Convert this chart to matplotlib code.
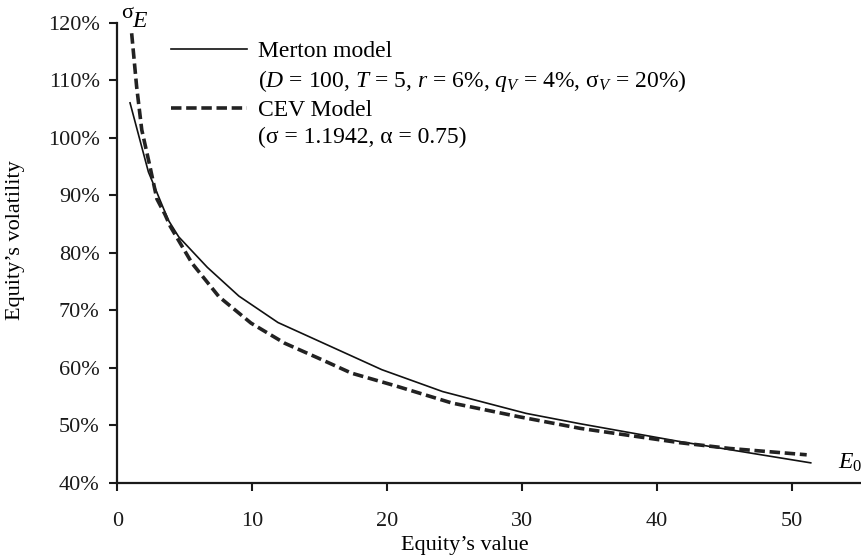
import matplotlib
matplotlib.use("Agg")
import matplotlib.pyplot as plt
from matplotlib.lines import Line2D

plt.rcParams['font.family'] = ['Liberation Serif', 'DejaVu Serif']
plt.rcParams['mathtext.fontset'] = 'custom'
plt.rcParams['mathtext.rm'] = 'Liberation Serif'
plt.rcParams['mathtext.it'] = 'Liberation Serif:italic'

# values (equity value, equity volatility in %)
merton_E = [0.93, 2.29, 3.77, 4.54, 6.66, 9.0, 11.9, 19.6, 24.1, 30.3, 34.3, 41.7, 51.4]
merton_vol = [106.1, 94.1, 85.7, 82.8, 77.5, 72.5, 67.9, 59.7, 55.9, 52.1, 50.3, 47.2, 43.5]

cev_E = [1.05, 1.42, 1.8, 2.41, 2.92, 3.52, 3.92, 5.53, 7.52, 9.9, 12.4, 14.9,
         17.35, 20.6, 24.8, 29.8, 34.3, 41.7, 45.4, 51.1]
cev_vol = [118.2, 108.9, 101.4, 95.0, 89.4, 86.7, 84.6, 78.2, 72.4, 67.8, 64.3, 61.7,
           59.1, 56.9, 53.9, 51.5, 49.5, 47.0, 46.0, 44.9]

xticks = [0, 10, 20, 30, 40, 50]
yticks = [40, 50, 60, 70, 80, 90, 100, 110, 120]

fig = plt.figure(figsize=(8.62, 5.59), dpi=100)
ax = fig.add_axes([0.1363, 0.136, 0.8637, 0.823])

ax.plot(merton_E, merton_vol, color='#111111', lw=1.2, solid_joinstyle='miter')
ax.plot(cev_E, cev_vol, color='#222222', lw=2.6, dashes=(2.9, 1.3))

ax.set_xlim(0, 55.2)
ax.set_ylim(40, 120)
ax.set_xticks(xticks)
ax.set_yticks(yticks)
ax.set_yticklabels([f'{v}%' for v in yticks])

for s in ['top', 'right']:
    ax.spines[s].set_visible(False)
for s in ['left', 'bottom']:
    ax.spines[s].set_linewidth(1.6)
    ax.spines[s].set_color('#1a1a1a')
ax.tick_params(axis='both', direction='out', length=5.8, width=1.5, labelsize=16, colors='#1a1a1a')
ax.tick_params(axis='x', pad=15)
ax.tick_params(axis='y', pad=7)

ax.set_xlabel("Equity’s value", fontsize=16)
ax.xaxis.set_label_coords(0.466, -0.115)
ax.set_ylabel("Equity’s volatility", fontsize=16)
ax.yaxis.set_label_coords(-0.124, 0.528)

ax.text(0.3, 120.9, 'σ', fontsize=16, ha='left', va='baseline', clip_on=False)
ax.text(1.05, 119.3, '$E$', fontsize=17, ha='left', va='baseline', clip_on=False)
ax.text(53.45, 42.4, '$E_0$', fontsize=17, ha='left', va='baseline', clip_on=False)

handles = [Line2D([], [], color='#111111', lw=1.2),
           Line2D([], [], color='none'),
           Line2D([], [], color='#222222', lw=2.6, dashes=(2.9, 1.3)),
           Line2D([], [], color='none')]
labels = ['Merton model',
          '($D$ = 100, $T$ = 5, $r$ = 6%, $q_V$ = 4%, σ$_V$ = 20%)',
          'CEV Model',
          '(σ = 1.1942, α = 0.75)']
ax.legend(handles, labels, loc='upper left', bbox_to_anchor=(0.072, 0.962),
          frameon=False, fontsize=17, handlelength=3.2, handletextpad=0.47,
          borderpad=0, borderaxespad=0, labelspacing=0.24)

fig.savefig('out.png', dpi=100)
